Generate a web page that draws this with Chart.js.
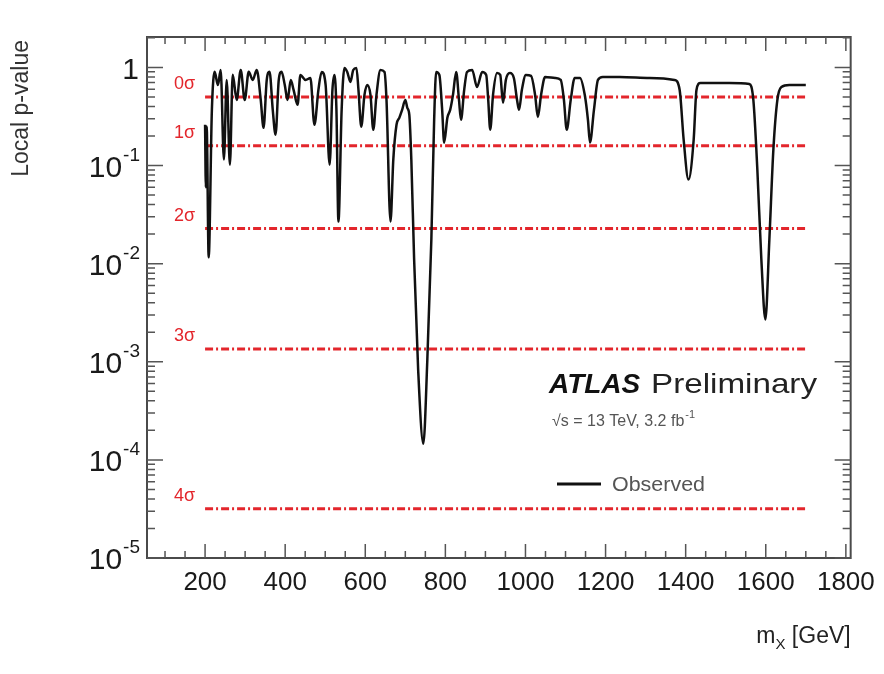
<!DOCTYPE html>
<html><head><meta charset="utf-8">
<script src="https://cdn.jsdelivr.net/npm/chart.js@4/dist/chart.umd.min.js"></script>
<style>html,body{margin:0;padding:0;background:#fff;}#wrap{width:884px;height:674px;}</style>
</head><body><div id="wrap"><canvas id="c" width="884" height="674"></canvas></div>
<script>
// ---- data ----
const massGeV = [200,202,204,209,217,224,232,239,247,254,262,269,279,289,299,309,319,329,339,346,
354,361,369,376,384,391,399,406,414,421,431,438,451,463,473,483,491,501,511,518,
523,528,533,541,548,555,563,570,578,583,590,598,605,613,620,628,638,648,653,663,
670,678,685,692,700,705,710,715,722,732,745,755,765,772,777,785,792,797,805,812,
819,827,834,839,847,854,867,879,892,902,907,912,919,929,937,944,951,961,971,979,
984,991,1001,1014,1024,1031,1039,1049,1074,1088,1096,1103,1113,1123,1136,1148,1156,1161,1171,1181,
1193,1235,1310,1372,1385,1395,1407,1420,1427,1437,1509,1559,1569,1579,1589,1599,1609,1619,1629,1639,
1659,1700];
const localP = [0.26,0.06,0.25,0.0116,0.37,0.90,0.66,0.94,0.115,0.745,0.102,0.84,0.466,0.94,0.466,0.90,0.745,0.94,0.466,0.242,
0.745,0.90,0.369,0.206,0.745,0.90,0.662,0.466,0.745,0.589,0.415,0.837,0.745,0.78,0.26,0.589,0.898,0.662,0.102,0.589,
0.837,0.369,0.0268,0.369,0.986,0.898,0.711,0.941,0.986,0.589,0.248,0.525,0.662,0.525,0.231,0.525,0.941,0.898,0.466,0.0268,
0.115,0.26,0.306,0.369,0.466,0.387,0.328,0.115,0.0110,0.00084,0.000146,0.00106,0.0176,0.292,0.898,0.837,0.369,0.171,0.306,0.369,
0.525,0.898,0.466,0.292,0.589,0.898,0.941,0.632,0.898,0.837,0.466,0.231,0.525,0.877,0.837,0.435,0.745,0.877,0.78,0.466,
0.369,0.589,0.837,0.818,0.525,0.313,0.525,0.799,0.78,0.745,0.466,0.231,0.466,0.78,0.78,0.525,0.292,0.171,0.369,0.745,
0.799,0.799,0.78,0.745,0.589,0.183,0.0718,0.183,0.589,0.694,0.694,0.678,0.466,0.0906,0.011,0.0027,0.0176,0.145,0.466,0.632,
0.662,0.662];
const sigmaLabels = ['0σ','1σ','2σ','3σ','4σ'];
const sigmaP = [0.5, 0.1587, 0.02275, 0.00135, 3.17e-5];
const sigmaRange = [200, 1700];
const xTickValues = [200,400,600,800,1000,1200,1400,1600,1800];
const yTickValues = [1e-5,1e-4,1e-3,1e-2,1e-1,1];
const yTickBase = ['10','10','10','10','10','1'];
const yTickExp  = ['-5','-4','-3','-2','-1',''];

const FONT = '"Liberation Sans", Arial, Helvetica, sans-serif';

const datasets = [{
  label: 'Observed',
  data: massGeV.map((m, i) => ({x: m, y: localP[i]})),
  borderColor: '#111', borderWidth: 2.5, pointRadius: 0,
  cubicInterpolationMode: 'monotone', order: 0
}];
sigmaP.forEach((p, i) => {
  datasets.push({
    label: sigmaLabels[i],
    data: sigmaRange.map(x => ({x: x, y: p})),
    borderColor: '#e3262c', borderWidth: 3, borderDash: [8, 3, 2, 3],
    pointRadius: 0, order: 1
  });
});

function fitText(ctx, txt, x, y, width) {
  const w = ctx.measureText(txt).width;
  ctx.save();
  ctx.translate(x, y);
  ctx.scale(width / w, 1);
  ctx.fillText(txt, 0, 0);
  ctx.restore();
}

const deco = {
  id: 'deco',
  afterDraw(chart) {
    const ctx = chart.ctx, a = chart.chartArea;
    const xs = chart.scales.x, ys = chart.scales.y;
    ctx.save();
    // frame
    ctx.strokeStyle = '#4a4a4a'; ctx.lineWidth = 2;
    ctx.strokeRect(a.left, a.top, a.right - a.left, a.bottom - a.top);
    // x ticks (inward, bottom + top)
    ctx.lineWidth = 1.5; ctx.strokeStyle = '#555';
    for (let v = 100; v <= 1800; v += 50) {
      const px = xs.getPixelForValue(v);
      const len = xTickValues.includes(v) ? 14 : 7;
      ctx.beginPath();
      ctx.moveTo(px, a.bottom); ctx.lineTo(px, a.bottom - len);
      ctx.moveTo(px, a.top); ctx.lineTo(px, a.top + len);
      ctx.stroke();
    }
    // y ticks (inward, left + right)
    for (let d = -5; d <= 0; d++) {
      for (let m = 1; m <= 9; m++) {
        const v = m * Math.pow(10, d);
        if (v > ys.max) break;
        const py = ys.getPixelForValue(v);
        const len = m === 1 ? 16 : 8;
        ctx.beginPath();
        ctx.moveTo(a.left, py); ctx.lineTo(a.left + len, py);
        ctx.moveTo(a.right, py); ctx.lineTo(a.right - len, py);
        ctx.stroke();
      }
    }
    // y tick labels with superscripts
    ctx.fillStyle = '#1a1a1a';
    yTickValues.forEach((v, i) => {
      const py = ys.getPixelForValue(v);
      const xr = a.left - 7;
      ctx.textBaseline = 'middle';
      ctx.textAlign = 'right';
      let ew = 0;
      if (yTickExp[i]) {
        ctx.font = '19px ' + FONT;
        ew = ctx.measureText(yTickExp[i]).width;
        ctx.fillText(yTickExp[i], xr, py - 10);
      }
      ctx.font = '30px ' + FONT;
      ctx.fillText(yTickBase[i], xr - ew - 1, py + 3);
    });
    // sigma labels
    ctx.fillStyle = '#e3262c';
    ctx.font = '18px ' + FONT;
    ctx.textAlign = 'left'; ctx.textBaseline = 'middle';
    sigmaP.forEach((p, i) => {
      ctx.fillText(sigmaLabels[i], 174, ys.getPixelForValue(p) - 13);
    });
    // ATLAS label
    ctx.fillStyle = '#111';
    ctx.textBaseline = 'alphabetic';
    ctx.font = 'italic bold 28px ' + FONT;
    ctx.fillText('ATLAS', 549, 393);
    ctx.font = '28px ' + FONT;
    ctx.fillStyle = '#222';
    fitText(ctx, 'Preliminary', 651, 393, 166);
    // energy / lumi
    ctx.fillStyle = '#555';
    ctx.font = '16px ' + FONT;
    ctx.textBaseline = 'middle';
    const t1 = '√s = 13 TeV, 3.2 fb';
    ctx.fillText(t1, 552, 422);
    const w1 = ctx.measureText(t1).width;
    ctx.font = '11px ' + FONT;
    ctx.fillText('-1', 552 + w1 + 1, 415);
    // legend
    ctx.strokeStyle = '#111'; ctx.lineWidth = 3;
    ctx.beginPath(); ctx.moveTo(557, 484); ctx.lineTo(601, 484); ctx.stroke();
    ctx.fillStyle = '#555'; ctx.font = '20px ' + FONT;
    fitText(ctx, 'Observed', 612, 485, 93);
    // x title: m_X [GeV]
    ctx.fillStyle = '#222';
    ctx.textBaseline = 'alphabetic';
    ctx.font = '23px ' + FONT;
    const tail = ' [GeV]';
    const wt = ctx.measureText(tail).width;
    const wm = ctx.measureText('m').width;
    ctx.font = '15px ' + FONT;
    const wx = ctx.measureText('X').width;
    const xEnd = a.right;
    const x0 = xEnd - wt - wx - wm;
    ctx.font = '23px ' + FONT;
    ctx.fillText('m', x0, 643);
    ctx.fillText(tail, x0 + wm + wx, 643);
    ctx.font = '15px ' + FONT;
    ctx.fillText('X', x0 + wm, 649);
    // y title
    ctx.save();
    ctx.translate(22, 40);
    ctx.rotate(-Math.PI / 2);
    ctx.textAlign = 'right'; ctx.textBaseline = 'middle';
    ctx.font = '23px ' + FONT;
    ctx.fillStyle = '#333';
    ctx.fillText('Local p-value', 0, 0);
    ctx.restore();
    ctx.restore();
  }
};

new Chart(document.getElementById('c'), {
  type: 'line',
  data: { datasets },
  options: {
    responsive: false, animation: false, devicePixelRatio: 1,
    layout: { padding: { top: 37, right: 32, left: 0, bottom: 0 } },
    plugins: { legend: { display: false }, tooltip: { enabled: false } },
    scales: {
      x: {
        type: 'linear', min: 55, max: 1812,
        afterBuildTicks: s => { s.ticks = xTickValues.map(v => ({ value: v })); },
        afterFit: s => { s.height = 116; },
        grid: { display: false, drawTicks: false }, border: { display: false },
        ticks: { font: { family: FONT, size: 26 }, color: '#1a1a1a', padding: 9,
                 maxRotation: 0, autoSkip: false, callback: v => String(v) }
      },
      y: {
        type: 'logarithmic', min: 1e-5, max: 2.04,
        afterFit: s => { s.width = 147; },
        grid: { display: false, drawTicks: false }, border: { display: false },
        ticks: { display: false }
      }
    }
  },
  plugins: [deco]
});
</script></body></html>
